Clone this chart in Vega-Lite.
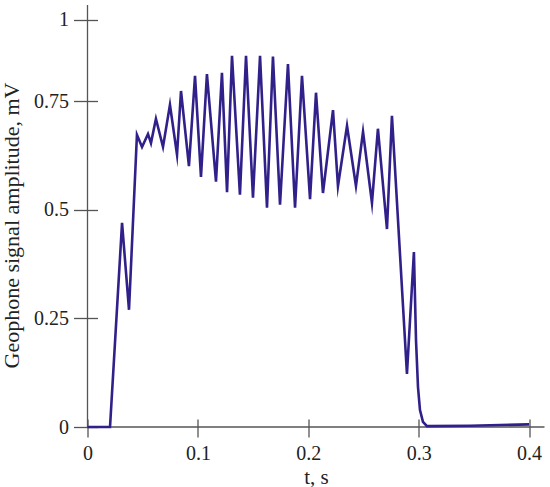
{
  "$schema": "https://vega.github.io/schema/vega-lite/v6.json",
  "width": 457,
  "height": 422,
  "autosize": {"type": "none"},
  "padding": {"left": 87.5, "top": 5, "right": 5, "bottom": 60},
  "config": {
    "view": {"stroke": null},
    "axis": {
      "grid": false,
      "domain": false,
      "labelFont": "Liberation Serif",
      "titleFont": "Liberation Serif",
      "labelFontSize": 20,
      "titleFontSize": 21,
      "labelColor": "#222222",
      "titleColor": "#222222",
      "titleFontWeight": "normal",
      "tickColor": "#555555",
      "tickWidth": 1.3
    }
  },
  "layer": [
    {
      "data": {"values": [{"a": 0}]},
      "mark": {"type": "rule", "color": "#555555", "strokeWidth": 1.3},
      "encoding": {"x": {"datum": 0, "type": "quantitative"}}
    },
    {
      "data": {"values": [{"a": 0}]},
      "mark": {"type": "rule", "color": "#555555", "strokeWidth": 1.3},
      "encoding": {"y": {"datum": 0, "type": "quantitative"}}
    },
    {
      "data": {
        "values": [
          {"t": 0.0, "v": 0.0},
          {"t": 0.0204, "v": 0.0},
          {"t": 0.0313, "v": 0.47},
          {"t": 0.0376, "v": 0.27},
          {"t": 0.0448, "v": 0.673},
          {"t": 0.0494, "v": 0.645},
          {"t": 0.0548, "v": 0.675},
          {"t": 0.0575, "v": 0.654},
          {"t": 0.062, "v": 0.71},
          {"t": 0.0684, "v": 0.645},
          {"t": 0.0747, "v": 0.742},
          {"t": 0.0811, "v": 0.627},
          {"t": 0.0847, "v": 0.774},
          {"t": 0.0919, "v": 0.601},
          {"t": 0.0974, "v": 0.809},
          {"t": 0.1028, "v": 0.576},
          {"t": 0.1082, "v": 0.813},
          {"t": 0.1164, "v": 0.565},
          {"t": 0.1218, "v": 0.816},
          {"t": 0.1264, "v": 0.541},
          {"t": 0.1309, "v": 0.855},
          {"t": 0.1381, "v": 0.535},
          {"t": 0.1436, "v": 0.855},
          {"t": 0.1499, "v": 0.528},
          {"t": 0.1563, "v": 0.855},
          {"t": 0.1626, "v": 0.505},
          {"t": 0.168, "v": 0.853},
          {"t": 0.1744, "v": 0.512},
          {"t": 0.1816, "v": 0.836},
          {"t": 0.188, "v": 0.505},
          {"t": 0.1943, "v": 0.809},
          {"t": 0.2016, "v": 0.525},
          {"t": 0.207, "v": 0.77},
          {"t": 0.2133, "v": 0.539},
          {"t": 0.2224, "v": 0.73},
          {"t": 0.2269, "v": 0.555},
          {"t": 0.2351, "v": 0.694},
          {"t": 0.2432, "v": 0.555},
          {"t": 0.2496, "v": 0.68},
          {"t": 0.2577, "v": 0.516},
          {"t": 0.2631, "v": 0.687},
          {"t": 0.2713, "v": 0.456},
          {"t": 0.2758, "v": 0.717},
          {"t": 0.2894, "v": 0.122},
          {"t": 0.2957, "v": 0.403},
          {"t": 0.2976, "v": 0.2},
          {"t": 0.2994, "v": 0.092},
          {"t": 0.3012, "v": 0.039},
          {"t": 0.3039, "v": 0.012},
          {"t": 0.3075, "v": 0.002},
          {"t": 0.3465, "v": 0.003},
          {"t": 0.4, "v": 0.006}
        ]
      },
      "mark": {"type": "line", "color": "#30208a", "strokeWidth": 2.6, "strokeJoin": "miter", "strokeMiterLimit": 10},
      "encoding": {
        "x": {
          "field": "t",
          "type": "quantitative",
          "scale": {"domain": [0, 0.414], "nice": false, "zero": false},
          "axis": {
            "title": "t, s",
            "values": [0, 0.1, 0.2, 0.3, 0.4],
            "labelExpr": "format(datum.value, '~g')",
            "offset": -8,
            "tickSize": 18,
            "labelPadding": 6,
            "titlePadding": 3,
            "labelFlush": false
          }
        },
        "y": {
          "field": "v",
          "type": "quantitative",
          "scale": {"domain": [0, 0.972], "nice": false, "zero": false},
          "axis": {
            "title": "Geophone signal amplitude, mV",
            "titleFontSize": 22,
            "titleY": 220,
            "values": [0, 0.25, 0.5, 0.75, 0.938],
            "labelExpr": "datum.value > 0.9 ? '1' : format(datum.value, '~g')",
            "offset": -10,
            "tickSize": 24,
            "labelPadding": 5,
            "titlePadding": 10,
            "labelFlush": false
          }
        }
      }
    }
  ]
}
